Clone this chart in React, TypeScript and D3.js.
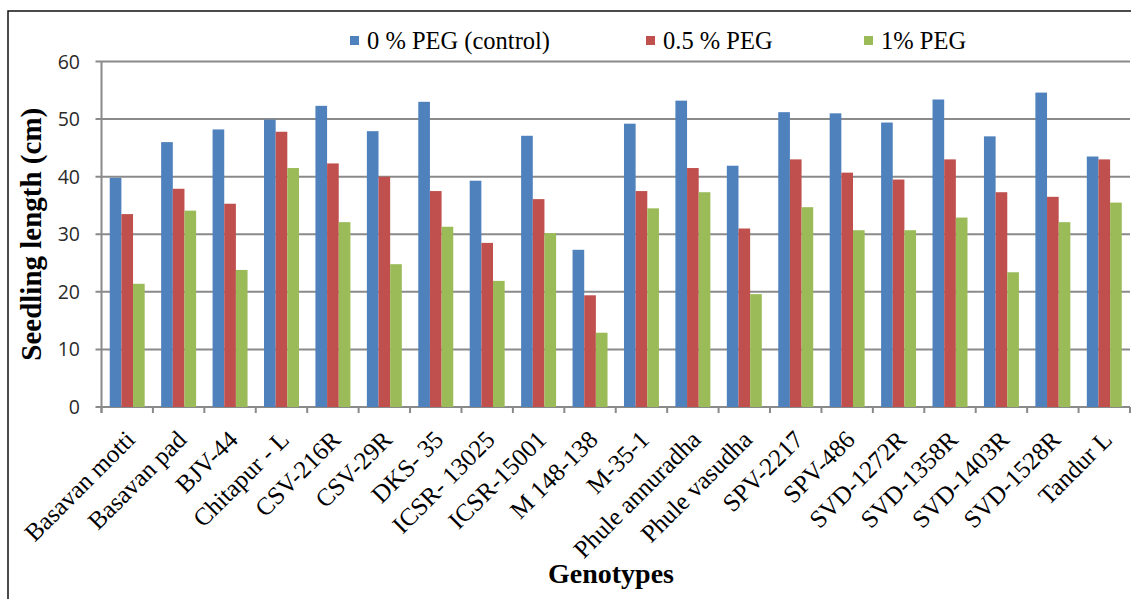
import React from "react";
import * as d3 from "d3";

const categories = [
  "Basavan motti", "Basavan pad", "BJV-44", "Chitapur - L", "CSV-216R", "CSV-29R",
  "DKS- 35", "ICSR- 13025", "ICSR-15001", "M 148-138", "M-35-1", "Phule annuradha",
  "Phule vasudha", "SPV-2217", "SPV-486", "SVD-1272R", "SVD-1358R", "SVD-1403R",
  "SVD-1528R", "Tandur L",
];
const seriesNames = ["0 % PEG (control)", "0.5 % PEG", "1% PEG"];
const peg0 = [39.8, 46.0, 48.2, 49.9, 52.3, 47.9, 53.0, 39.3, 47.1, 27.3, 49.2, 53.2, 41.9, 51.2, 51.0, 49.4, 53.4, 47.0, 54.6, 43.5];
const peg05 = [33.5, 37.9, 35.3, 47.8, 42.3, 40.0, 37.5, 28.5, 36.1, 19.4, 37.5, 41.5, 31.0, 43.0, 40.7, 39.5, 43.0, 37.3, 36.5, 43.0];
const peg1 = [21.4, 34.1, 23.8, 41.5, 32.1, 24.8, 31.3, 21.9, 30.2, 12.9, 34.5, 37.3, 19.6, 34.7, 30.7, 30.7, 32.9, 23.4, 32.1, 35.5];
const yTicks = [0, 10, 20, 30, 40, 50, 60];
const colors = ["#4F81BD", "#C0504D", "#9BBB59"];

const W = 1131, H = 599;
const left = 101.5, right = 1130, top = 61.5, bottom = 407;
const SERIF = "Liberation Serif";

export default function App() {
  const series = [peg0, peg05, peg1];
  const x = d3.scaleBand<string>().domain(categories).range([left, right]).padding(0);
  const step = x.bandwidth();
  const inner = d3.scaleBand<number>().domain([0, 1, 2]).range([step * 0.16, step * 0.84]).padding(0);
  const y = d3.scaleLinear().domain([0, 60]).range([bottom, top]);
  const grid = "#8a8a8a";
  const legendX = [350, 646, 864];

  return (
    <svg width={W} height={H} style={{ position: "absolute", left: 0, top: 0, background: "#fff" }}>
      <rect x={8} y={11} width={W + 10} height={H + 10} fill="#fff" stroke="#111" strokeWidth={1.5} />
      {yTicks.map((t) => (
        <line key={"g" + t} x1={left - 6} x2={right} y1={y(t)} y2={y(t)} stroke={grid} strokeWidth={2} />
      ))}
      <line x1={left} x2={left} y1={top} y2={bottom + 6} stroke={grid} strokeWidth={2} />
      {yTicks.map((t) => (
        <text key={"yt" + t} x={80} y={y(t)} dy="0.36em" textAnchor="end" fontFamily="'Open Sans', 'Noto Sans', sans-serif" fontSize={19.5} fill="#2a2a2a">
          {t}
        </text>
      ))}
      {categories.map((c, i) => (
        <g key={c}>
          {series.map((s, k) => (
            <rect key={k} x={(x(c) as number) + (inner(k) as number)} y={y(s[i])} width={inner.bandwidth()} height={bottom - y(s[i])} fill={colors[k]} />
          ))}
        </g>
      ))}
      {categories.concat(["__end"]).map((c, i) => {
        const xx = left + i * step;
        return <line key={"xt" + i} x1={xx} x2={xx} y1={bottom} y2={bottom + 6} stroke={grid} strokeWidth={2} />;
      })}
      {categories.map((c) => {
        const cx = (x(c) as number) + step / 2 + 3;
        const cy = bottom + 28;
        return (
          <text key={"xl" + c} transform={`translate(${cx},${cy}) rotate(-45)`} textAnchor="end" dy="0.35em" fontFamily={SERIF} fontSize={25} fill="#000">
            {c}
          </text>
        );
      })}
      <text transform={`translate(41,${(top + bottom) / 2}) rotate(-90)`} textAnchor="middle" fontFamily={SERIF} fontWeight="bold" fontSize={29} fill="#000">
        Seedling length (cm)
      </text>
      <text x={611} y={583} textAnchor="middle" fontFamily={SERIF} fontWeight="bold" fontSize={28} fill="#000">
        Genotypes
      </text>
      {seriesNames.map((n, k) => (
        <g key={"lg" + k}>
          <rect x={legendX[k]} y={36} width={9} height={9} fill={colors[k]} />
          <text x={legendX[k] + 17} y={40} dy="0.35em" fontFamily={SERIF} fontSize={24.5} fill="#000">
            {n}
          </text>
        </g>
      ))}
    </svg>
  );
}
